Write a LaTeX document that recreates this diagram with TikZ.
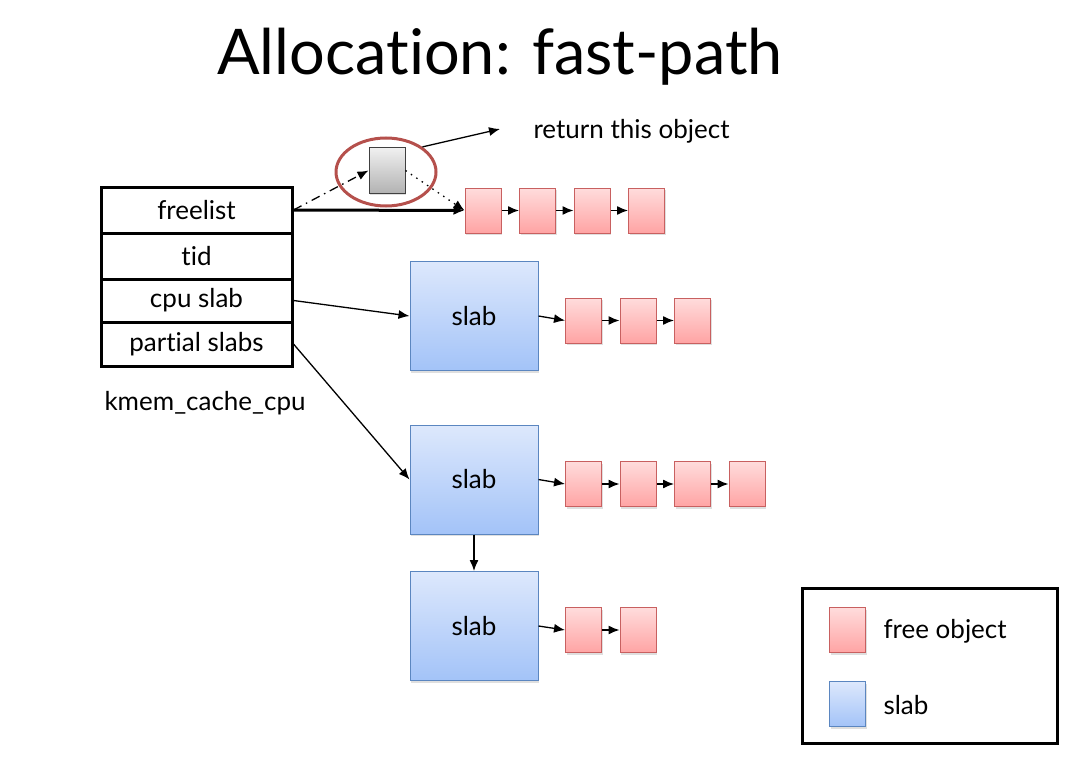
\documentclass[tikz,border=0pt]{standalone}
\usepackage{fontspec}
\setmainfont{Lato}[Ligatures=NoCommon]
\usepackage{tikz}
\usetikzlibrary{arrows.meta, shadows, shapes.geometric}
\definecolor{objline}{HTML}{C86060}
\definecolor{objtop}{HTML}{FFDCDC}
\definecolor{objbot}{HTML}{FFA4A4}
\definecolor{slabline}{HTML}{5B86C0}
\definecolor{slabtop}{HTML}{DDE8FC}
\definecolor{slabbot}{HTML}{A3C3F8}
\definecolor{ringred}{HTML}{B5504C}
\tikzstyle{Field}=[rectangle, minimum width=191, minimum height=45, draw=black, line width=3, font=\fontsize{26}{30}\selectfont]
\tikzstyle{Obj}=[rectangle, minimum width=36, minimum height=45, draw=objline, line width=1, top color=objtop, bottom color=objbot, drop shadow={opacity=0.25, shadow xshift=1pt, shadow yshift=-2pt}]
\tikzstyle{Slab}=[rectangle, minimum width=128, minimum height=109, draw=slabline, line width=1, top color=slabtop, bottom color=slabbot, drop shadow={opacity=0.25, shadow xshift=1pt, shadow yshift=-2pt}, font=\fontsize{26}{30}\selectfont]
\tikzstyle{Ptr}=[-{Latex[length=11, width=9]}, line width=1.3]
\tikzstyle{Label}=[font=\fontsize{26}{30}\selectfont]

\begin{document}
\begin{tikzpicture}[x=1pt, y=-1pt]
    \useasboundingbox (0,0) rectangle (1067,770);
    \path
    (500,57) node[font=\fontsize{63}{70}\selectfont] (title) {Allocation: fast-path}
    (196.5,210) node[Field, minimum height=46] (freelist) {freelist}
    (196.5,256) node[Field, minimum height=46] (tid) {tid}
    (196.5,300.5) node[Field, minimum height=43] (cpuslab) {cpu slab}
    (196.5,344) node[Field, minimum height=44] (partial) {partial slabs}
    (101,403) node[Label, anchor=west] (kmem) {kmem\_cache\_cpu};

    % object taken from the freelist
    \path (387,170.5) node[Obj, draw=black!75, top color=black!6, bottom color=black!30] (obj) {}
    (386,172) node[ellipse, draw=ringred, line width=3, minimum width=100, minimum height=68] (ring) {}
    (530,131) node[Label, anchor=west] (ret) {return this object};
    \coordinate (retend) at (500,129);

    % freelist objects
    \path (483,210.5) node[Obj] (f1) {}
    (537.5,210.5) node[Obj] (f2) {}
    (592,210.5) node[Obj] (f3) {}
    (646.5,210.5) node[Obj] (f4) {};

    % cpu slab
    \path (474,316) node[Slab] (slab1) {slab}
    (583.5,320.5) node[Obj] (c1) {}
    (638,320.5) node[Obj] (c2) {}
    (692.5,320.5) node[Obj] (c3) {};

    % partial slabs
    \path (474,479.5) node[Slab] (slab2) {slab}
    (583.5,484) node[Obj] (p1) {}
    (638,484) node[Obj] (p2) {}
    (692.5,484) node[Obj] (p3) {}
    (747,484) node[Obj] (p4) {}
    (474,626) node[Slab] (slab3) {slab}
    (583.5,630) node[Obj] (q1) {}
    (638,630) node[Obj] (q2) {};

    % legend
    \path (929.5,666) node[rectangle, draw=black, line width=3, minimum width=255, minimum height=155] (legend) {}
    (847.5,630) node[Obj] (legobj) {}
    (847.5,704) node[Slab, minimum width=36, minimum height=45] (legslab) {}
    (880,631) node[Label, anchor=west] (legobjtxt) {free object}
    (880,705) node[Label, anchor=west] (legslabtxt) {slab};

    \draw[Ptr, line width=3] (freelist.east) -- (f1.west);
    \draw[Ptr, dash pattern=on 9 off 5 on 1.5 off 5] (freelist.east) -- (obj.west);
    \draw[Ptr, dash pattern=on 1.5 off 5] (obj.east) -- (f1.west);
    \draw[Ptr] (ring.north east) -- (retend);
    \draw[Ptr] (f1) -- (f2);
    \draw[Ptr] (f2) -- (f3);
    \draw[Ptr] (f3) -- (f4);
    \draw[Ptr] (cpuslab.east) -- (slab1.west);
    \draw[Ptr] (slab1.east) -- (c1.west);
    \draw[Ptr] (c1) -- (c2);
    \draw[Ptr] (c2) -- (c3);
    \draw[Ptr] (partial.east) -- (slab2.west);
    \draw[Ptr] (slab2.east) -- (p1.west);
    \draw[Ptr] (p1) -- (p2);
    \draw[Ptr] (p2) -- (p3);
    \draw[Ptr] (p3) -- (p4);
    \draw[Ptr] (slab2) -- (slab3);
    \draw[Ptr] (slab3.east) -- (q1.west);
    \draw[Ptr] (q1) -- (q2);
\end{tikzpicture}
\end{document}
